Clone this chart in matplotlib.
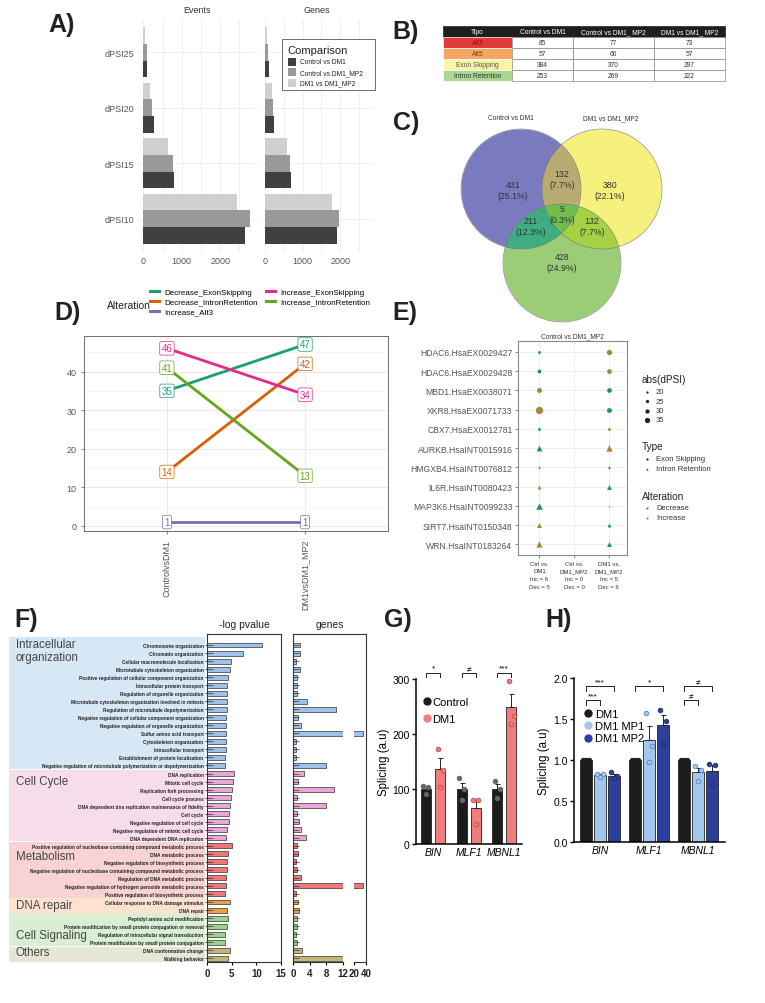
import numpy as np
import matplotlib
matplotlib.use("Agg")
import matplotlib.pyplot as plt
from matplotlib.patches import Rectangle, Circle
from matplotlib.lines import Line2D

plt.rcParams['font.family'] = ['Liberation Sans', 'DejaVu Sans']

W, H = 765, 1004

# A) number of events / genes per dPSI threshold
dpsi_levels = ['dPSI10', 'dPSI15', 'dPSI20', 'dPSI25']
comparisons = ['Control vs DM1', 'Control vs DM1_MP2', 'DM1 vs DM1_MP2']
events_ctrl_dm1 = [2650, 790, 270, 95]
events_ctrl_mp2 = [2765, 775, 235, 85]
events_dm1_mp2 = [2445, 650, 180, 40]
genes_ctrl_dm1 = [1910, 685, 240, 90]
genes_ctrl_mp2 = [1975, 660, 205, 80]
genes_dm1_mp2 = [1780, 580, 180, 35]

# B) table
event_types = ['Alt3', 'Alt5', 'Exon Skipping', 'Intron Retention']
table_header = ['Tipo', 'Control vs DM1', 'Control vs DM1_ MP2', 'DM1 vs DM1_ MP2']
tab_ctrl_dm1 = [85, 57, 384, 253]
tab_ctrl_mp2 = [77, 60, 370, 269]
tab_dm1_mp2 = [73, 57, 297, 222]

# C) venn
venn_titles = ['Control vs DM1', 'DM1 vs DM1_MP2']
venn_regions = ['A', 'B', 'AB', 'ABC', 'AC', 'BC', 'C']
venn_counts = [431, 380, 132, 5, 211, 132, 428]

# D) alterations
alterations = ['Decrease_ExonSkipping', 'Decrease_IntronRetention', 'Increase_Alt3',
               'Increase_ExonSkipping', 'Increase_IntronRetention']
d_ctrl_dm1 = [35, 14, 1, 46, 41]
d_dm1_mp2 = [47, 42, 1, 34, 13]
d_conditions = ['ControlvsDM1', 'DM1vsDM1_MP2']

# E) events dot plot
e_events = ['HDAC6.HsaEX0029427', 'HDAC6.HsaEX0029428', 'MBD1.HsaEX0038071', 'XKR8.HsaEX0071733',
            'CBX7.HsaEX0012781', 'AURKB.HsaINT0015916', 'HMGXB4.HsaINT0076812', 'IL6R.HsaINT0080423',
            'MAP3K6.HsaINT0099233', 'SIRT7.HsaINT0150348', 'WRN.HsaINT0183264']
e_ctrl_dm1_dpsi = [23, 28, 33, 45, 23, 34, 21, 26, 37, 30, 36]
e_ctrl_dm1_alt = ['Decrease', 'Decrease', 'Increase', 'Increase', 'Decrease', 'Decrease',
                  'Increase', 'Increase', 'Decrease', 'Increase', 'Increase']
e_ctrl_mp2_dpsi = []
e_ctrl_mp2_alt = []
e_dm1_mp2_dpsi = [35, 32, 32, 33, 23, 37, 21, 30, 17, 26, 30]
e_dm1_mp2_alt = ['Increase', 'Increase', 'Decrease', 'Decrease', 'Increase', 'Increase',
                 'Decrease', 'Decrease', 'Increase', 'Decrease', 'Decrease']
e_columns = [('Ctrl vs.\nDM1', e_ctrl_dm1_dpsi, e_ctrl_dm1_alt),
             ('Ctrl vs.\nDM1_MP2', e_ctrl_mp2_dpsi, e_ctrl_mp2_alt),
             ('DM1 vs.\nDM1_MP2', e_dm1_mp2_dpsi, e_dm1_mp2_alt)]

# F) GO terms
go_terms = ['Chromosome organization', 'Chromatin organization', 'Cellular macromolecule localization',
            'Microtubule cytoskeleton organization', 'Positive regulation of cellular component organization',
            'Intracellular protein transport', 'Regulation of organelle organization',
            'Microtubule cytoskeleton organization involved in mitosis', 'Regulation of microtubule depolymerization',
            'Negative regulation of cellular component organization', 'Negative regulation of organelle organization',
            'Sulfur amino acid transport', 'Cytoskeleton organization', 'Intracellular transport',
            'Establishment of protein localization',
            'Negative regulation of microtubule polymerization or depolymerization',
            'DNA replication', 'Mitotic cell cycle', 'Replication fork processing', 'Cell cycle process',
            'DNA dependent dna replication maintenance of fidelity', 'Cell cycle',
            'Negative regulation of cell cycle', 'Negative regulation of mitotic cell cycle',
            'DNA dependent DNA replication',
            'Positive regulation of nucleobase containing compound metabolic process', 'DNA metabolic process',
            'Negative regulation of biosynthetic process',
            'Negative regulation of nucleobase containing compound metabolic process',
            'Regulation of DNA metabolic process', 'Negative regulation of hydrogen peroxide metabolic process',
            'Positive regulation of biosynthetic process',
            'Cellular response to DNA damage stimulus', 'DNA repair',
            'Peptidyl amino acid modification', 'Protein modification by small protein conjugation or removal',
            'Regulation of intracellular signal transduction', 'Protein modification by small protein conjugation',
            'DNA conformation change', 'Walking behavior']
go_logp = [11.1, 7.3, 4.8, 4.7, 4.25, 4.05, 4.05, 4.0, 4.0, 3.9, 3.9, 3.85, 3.9, 3.9, 3.7, 3.7,
           5.5, 5.3, 5.1, 4.9, 4.7, 4.5, 4.5, 4.1, 3.8,
           5.1, 4.25, 4.0, 4.0, 3.85, 3.8, 3.7,
           4.6, 4.05,
           4.25, 4.1, 3.7, 3.55,
           4.7, 4.2]
go_genes = [1.75, 1.75, 0.8, 1.6, 1.0, 1.0, 1.0, 3.4, 10.2, 1.3, 1.9, 35, 0.8, 0.7, 0.7, 8.0,
            2.6, 1.3, 9.8, 1.0, 8.0, 0.9, 1.4, 2.0, 3.0,
            1.0, 1.1, 0.8, 0.9, 1.8, 35, 0.7,
            1.2, 1.4,
            1.0, 1.0, 0.7, 1.0,
            2.1, 12]
go_groups = ['Intracellular\norganization', 'Cell Cycle', 'Metabolism', 'DNA repair', 'Cell Signaling', 'Others']
go_group_sizes = [16, 9, 7, 2, 4, 2]
go_bar_colors = ['#9dc3ea', '#e9a6d6', '#ef7679', '#f0a04a', '#9ad38f', '#c2b778']
go_band_colors = ['#d6e7f6', '#f7dcec', '#f9d2d3', '#fce3cf', '#d9eed3', '#e6e6d6']
go_label_rows = [0.7, 16.9, 26.3, 32.4, 36.1, 38.2]

# G) splicing Control vs DM1
g_genes = ['BIN', 'MLF1', 'MBNL1']
g_control = [[105, 103, 91], [120, 100, 80], [115, 100, 83]]
g_dm1 = [[173, 134, 104], [80, 80, 36], [296, 233, 218]]
g_sig = ['*', '≠', '***']

# H) splicing after treatment
h_groups = ['DM1', 'DM1 MP1', 'DM1 MP2']
h_dm1 = [[1.0, 1.0, 1.0], [1.0, 1.0, 1.0], [1.0, 1.0, 1.0]]
h_mp1 = [[0.83, 0.83, 0.79], [1.57, 1.17, 0.98], [0.93, 0.88, 0.74]]
h_mp2 = [[0.85, 0.80, 0.78], [1.61, 1.48, 1.20], [0.95, 0.94, 0.70]]
h_sig = [(0, 1, 1.73, '***'), (0, 2, 1.90, '***'), (1, 2, 1.90, '*'),
         (2, 1, 1.73, '≠'), (2, 2, 1.90, '≠')]

fig = plt.figure(figsize=(W / 100, H / 100), dpi=100)


def px_axes(x0, y0, x1, y1, **kw):
    return fig.add_axes([x0 / W, 1 - y1 / H, (x1 - x0) / W, (y1 - y0) / H], **kw)


def ftext(x, y, s, **kw):
    fig.text(x / W, 1 - y / H, s, **kw)


front = px_axes(0, 0, W, H, zorder=10)
front.set_xlim(0, W)
front.set_ylim(H, 0)
front.axis('off')

for lab, x, y in [('A)', 48, 25), ('B)', 392, 32), ('C)', 393, 123), ('D)', 54, 313),
                  ('E)', 392, 313), ('F)', 14, 620), ('G)', 384, 620), ('H)', 545, 620)]:
    ftext(x, y, lab, fontsize=18, fontweight='bold', va='center', color='#222')

# ---------- A
a_cols = ['#404040', '#999999', '#d0d0d0']
a_y = np.arange(len(dpsi_levels))
facets = [(138, 255, 'Events', [events_ctrl_dm1, events_ctrl_mp2, events_dm1_mp2]),
          (260, 374, 'Genes', [genes_ctrl_dm1, genes_ctrl_mp2, genes_dm1_mp2])]
for k, (x0, x1, title, series) in enumerate(facets):
    ax = px_axes(x0, 20, x1, 253)
    for j, vals in enumerate(series):
        ax.barh(a_y + (j - 1) * 0.3, vals, height=0.3, color=a_cols[j], zorder=2)
    ax.set_xlim(-140, 2905)
    ax.set_ylim(-0.6, 3.6)
    ax.set_xticks([0, 1000, 2000])
    ax.set_xticks([500, 1500, 2500], minor=True)
    ax.set_yticks(a_y)
    ax.set_yticklabels(dpsi_levels if k == 0 else [])
    ax.grid(True, which='both', color='#ececec', lw=0.6)
    ax.set_axisbelow(True)
    for s in ax.spines.values():
        s.set_visible(False)
    ax.tick_params(which='both', length=0, labelsize=6.5, labelcolor='#555', pad=3)
    ax.set_title(title, fontsize=6.5, color='#333', pad=5)

front.add_patch(Rectangle((282, 40), 93, 51, fc='white', ec='#555', lw=0.6))
front.text(287, 51, 'Comparison', fontsize=8, va='center', color='#222')
for j, c in enumerate(comparisons):
    front.add_patch(Rectangle((288, 59 + j * 10.3), 8, 8, fc=a_cols[j], ec='none'))
    front.text(300, 63 + j * 10.3, c, fontsize=4.8, va='center', color='#222')

# ---------- B
col_x = [443, 512, 573, 654, 725]
row_y = [27, 38, 49, 60, 71, 82]
type_colors = ['#e03a3a', '#f5a662', '#faf3a8', '#a9d98f']
type_text = ['#8a1010', '#7a3a10', '#555', '#333']
for c in range(4):
    front.add_patch(Rectangle((col_x[c], row_y[0]), col_x[c + 1] - col_x[c], row_y[1] - row_y[0],
                              fc='#1e1e1e', ec='#1e1e1e', lw=0.5))
    front.text((col_x[c] + col_x[c + 1]) / 2, (row_y[0] + row_y[1]) / 2, table_header[c],
               fontsize=4.8, color='white', ha='center', va='center')
cols_vals = [tab_ctrl_dm1, tab_ctrl_mp2, tab_dm1_mp2]
for r, t in enumerate(event_types):
    y0, y1 = row_y[r + 1], row_y[r + 2]
    front.add_patch(Rectangle((col_x[0], y0), col_x[1] - col_x[0], y1 - y0, fc=type_colors[r], ec='white', lw=0.5))
    front.text((col_x[0] + col_x[1]) / 2, (y0 + y1) / 2, t, fontsize=4.8, color=type_text[r],
               ha='center', va='center')
    for c in range(3):
        front.add_patch(Rectangle((col_x[c + 1], y0), col_x[c + 2] - col_x[c + 1], y1 - y0,
                                  fc='white', ec='#888', lw=0.5))
        front.text((col_x[c + 1] + col_x[c + 2]) / 2, (y0 + y1) / 2, str(cols_vals[c][r]),
                   fontsize=4.8, color='#333', ha='center', va='center')

# ---------- C
ax_c = px_axes(440, 105, 700, 335)
ax_c.set_xlim(440, 700)
ax_c.set_ylim(335, 105)
ax_c.axis('off')
circles = [(521, 190, 60), (602, 190, 60), (562, 264, 59)]
xs = np.linspace(440, 700, 781)
ys = np.linspace(105, 335, 691)
X, Y = np.meshgrid(xs, ys)
code = np.zeros(X.shape, dtype=int)
for i, (cx, cy, r) in enumerate(circles):
    code += ((X - cx) ** 2 + (Y - cy) ** 2 <= r ** 2).astype(int) << i
lut = np.array([[1, 1, 1, 0],
                [0.482, 0.482, 0.749, 1],   # A
                [0.965, 0.945, 0.494, 1],   # B
                [0.725, 0.675, 0.451, 1],   # AB
                [0.604, 0.804, 0.463, 1],   # C
                [0.25, 0.68, 0.51, 1],      # AC
                [0.65, 0.82, 0.27, 1],      # BC
                [0.44, 0.75, 0.30, 1]])     # ABC
ax_c.imshow(lut[code], extent=(440, 700, 335, 105), interpolation='bilinear', aspect='auto')
for cx, cy, r in circles:
    ax_c.add_patch(Circle((cx, cy), r, fill=False, ec='#777', lw=0.4))
total = sum(venn_counts)
venn_pos = {'A': (513, 191), 'B': (610, 191), 'AB': (562, 180), 'ABC': (562, 215),
            'AC': (531, 227), 'BC': (592, 227), 'C': (562, 263)}
for reg, n in zip(venn_regions, venn_counts):
    x, y = venn_pos[reg]
    ax_c.text(x, y, f'{n}\n({100 * n / total:.1f}%)', ha='center', va='center', fontsize=6.3,
              color='#333', linespacing=1.25)
ftext(511, 119, venn_titles[0], fontsize=4.8, ha='center', va='center', color='#333')
ftext(611, 119, venn_titles[1], fontsize=4.8, ha='center', va='center', color='#333')

# ---------- D
d_colors = ['#1b9e77', '#d95f02', '#7570b3', '#e7298a', '#66a61e']
ax_d = px_axes(84, 337, 388, 532)
for i, name in enumerate(alterations):
    v = [d_ctrl_dm1[i], d_dm1_mp2[i]]
    ax_d.plot([1, 2], v, color=d_colors[i], lw=2, zorder=3)
    for xx, vv in zip([1, 2], v):
        ax_d.text(xx, vv, str(vv), ha='center', va='center', fontsize=7, color=d_colors[i], zorder=4,
                  bbox=dict(boxstyle='round,pad=0.18', fc='white', ec=d_colors[i], lw=0.5))
ax_d.set_xlim(0.4, 2.6)
ax_d.set_ylim(-1.3, 49.2)
ax_d.set_yticks([0, 10, 20, 30, 40])
ax_d.set_yticks([5, 15, 25, 35, 45], minor=True)
ax_d.set_xticks([1, 2])
ax_d.set_xticklabels(d_conditions, rotation=90, fontsize=5.4, color='#444')
ax_d.grid(True, which='major', color='#e6e6e6', lw=0.6)
ax_d.grid(True, which='minor', axis='y', color='#f0f0f0', lw=0.4)
ax_d.set_axisbelow(True)
for s in ax_d.spines.values():
    s.set_color('#555')
    s.set_linewidth(0.6)
ax_d.tick_params(which='major', length=2, width=0.5, color='#555', labelsize=6.5, labelcolor='#555')
ax_d.tick_params(which='minor', length=0)
ftext(107, 306, 'Alteration', fontsize=7.5, va='center', color='#222')
fig.legend([Line2D([], [], color=c, lw=2.2) for c in d_colors], alterations, ncol=2, loc='upper left',
           bbox_to_anchor=(150 / W, 1 - 289 / H), frameon=False, fontsize=5.8, handlelength=1.1,
           handletextpad=0.7, columnspacing=1.0, labelspacing=0.3, borderpad=0, borderaxespad=0)

# ---------- E
alt_colors = {'Decrease': '#1a9a55', 'Increase': '#a08838'}


def dpsi_to_size(v):
    d = 2.3 + (np.asarray(v, dtype=float) - 20) * 0.2
    return (d * 0.72) ** 2


ax_e = px_axes(518, 342, 627, 556)
rows_e = np.arange(len(e_events))
xlabels_e = []
for ci, (lab, dps, alts) in enumerate(e_columns):
    for r, (v, a) in enumerate(zip(dps, alts)):
        mk = 'o' if 'EX' in e_events[r] else '^'
        ax_e.scatter(ci, r, s=dpsi_to_size(v) * (1.3 if mk == '^' else 1.0), marker=mk,
                     color=alt_colors[a], zorder=3, lw=0)
    xlabels_e.append(f"{lab}\nInc = {alts.count('Increase')}\nDec = {alts.count('Decrease')}")
ax_e.set_xlim(-0.62, 2.53)
ax_e.set_ylim(10.55, -0.57)
ax_e.set_yticks(rows_e)
ax_e.set_yticklabels(e_events, fontsize=6.2, color='#555')
ax_e.set_xticks([0, 1, 2])
ax_e.set_xticklabels(xlabels_e, fontsize=4.3, color='#333', linespacing=1.7)
ax_e.grid(True, color='#ebebeb', lw=0.6)
ax_e.set_axisbelow(True)
for s in ax_e.spines.values():
    s.set_color('#888')
    s.set_linewidth(0.8)
ax_e.tick_params(length=2, width=0.5, color='#555', pad=2)
ax_e.set_title('Control vs DM1_MP2', fontsize=4.8, color='#333', pad=3)

front.text(642, 380, 'abs(dPSI)', fontsize=7.2, va='center', color='#222')
for k, v in enumerate([20, 25, 30, 35]):
    yy = 393 + k * 9.3
    front.scatter(647, yy, s=dpsi_to_size(v), color='#222', lw=0)
    front.text(656, yy, str(v), fontsize=5.5, va='center', color='#333')
front.text(642, 447, 'Type', fontsize=7.2, va='center', color='#222')
for k, (t, mk) in enumerate([('Exon Skipping', 'o'), ('Intron Retention', '^')]):
    yy = 460 + k * 9.5
    front.scatter(647, yy, s=2.5, marker=mk, color='#222', lw=0)
    front.text(656, yy, t, fontsize=5.5, va='center', color='#333')
front.text(642, 497, 'Alteration', fontsize=7.2, va='center', color='#222')
for k, a in enumerate(['Decrease', 'Increase']):
    yy = 509 + k * 9.5
    front.scatter(647, yy, s=2.5, color=alt_colors[a], lw=0)
    front.text(656, yy, a, fontsize=5.5, va='center', color='#333')

# ---------- F
rows_f = np.arange(len(go_terms))
bounds = np.cumsum([0] + go_group_sizes)
bar_cols_f = []
for g, n in enumerate(go_group_sizes):
    bar_cols_f += [go_bar_colors[g]] * n
ylim_f = (39.47, -1.37)
ax_fb = px_axes(9, 635, 205, 963, zorder=-1)
ax_fb.set_xlim(0, 1)
ax_fb.set_ylim(*ylim_f)
ax_fb.axis('off')
for g in range(len(go_groups)):
    top = bounds[g] - 0.45 if g > 0 else -1.0
    ax_fb.axhspan(top, bounds[g + 1] - 0.55, color=go_band_colors[g], lw=0)
    ax_fb.text(0.035, go_label_rows[g], go_groups[g], fontsize=8.3, color='#444', va='center',
               linespacing=1.05)

ax_f1 = px_axes(207, 635, 281, 963)
ax_f2 = px_axes(293, 635, 343, 963)
ax_f3 = px_axes(354, 635, 366, 963)
for ax, vals, lim, ticks in [(ax_f1, go_logp, (0, 15), [0, 5, 10, 15]),
                             (ax_f2, go_genes, (0, 12), [0, 4, 8, 12]),
                             (ax_f3, go_genes, (20, 40), [20, 40])]:
    ax.barh(rows_f, vals, height=0.62, color=bar_cols_f, edgecolor='#333', lw=0.5, zorder=2)
    ax.set_xlim(*lim)
    ax.set_ylim(*ylim_f)
    ax.set_xticks(ticks)
    ax.set_xticklabels([str(t) for t in ticks], fontsize=7, fontweight='bold', color='#222')
    ax.tick_params(axis='x', length=2.5, width=0.8, pad=2)
    for s in ax.spines.values():
        s.set_linewidth(0.8)
        s.set_color('#333')
ax_f1.hlines(rows_f, 0, 1.2, color='#333', lw=0.5, zorder=3)
ax_f2.hlines(rows_f, 0, 1.4, color='#333', lw=0.5, zorder=3)
ax_f1.set_yticks(rows_f)
ax_f1.set_yticklabels(go_terms, fontsize=3.4, fontweight='bold', color='#222')
ax_f1.tick_params(axis='y', length=1.5, width=0.5, pad=1)
ax_f2.set_yticks([])
ax_f3.set_yticks([])
ax_f2.spines['right'].set_visible(False)
ax_f3.spines['left'].set_visible(False)
front.plot([343, 354], [635, 635], color='#333', lw=0.8)
ftext(244, 630, '-log pvalue', fontsize=7.5, ha='center', va='bottom', color='#222')
ftext(330, 630, 'genes', fontsize=7.5, ha='center', va='bottom', color='#222')

# ---------- G
xg = np.arange(len(g_genes))
ax_g = px_axes(416, 680, 522, 845)
g_sets = [(g_control, -0.2, '#1c1c1c', '#666666', '#666666'), (g_dm1, 0.2, '#f17c7c', '#f17c7c', '#c94848')]
for pts, off, col, pfc, pec in g_sets:
    pts = np.array(pts, dtype=float)
    m = pts.mean(axis=1)
    sem = pts.std(axis=1, ddof=1) / np.sqrt(pts.shape[1])
    ax_g.bar(xg + off, m, width=0.28, color=col, edgecolor='#222', lw=0.6, zorder=2)
    ax_g.errorbar(xg + off, m, yerr=[np.zeros_like(sem), sem], fmt='none', ecolor='#222',
                  elinewidth=0.7, capsize=1.8, capthick=0.7, zorder=3)
    for i in range(len(xg)):
        ax_g.scatter(xg[i] + off + np.array([-0.07, 0.07, 0.0]), pts[i], s=11, fc=pfc, ec=pec, lw=0.6, zorder=4)
for i, s in enumerate(g_sig):
    x1, x2 = xg[i] - 0.2, xg[i] + 0.2
    ax_g.plot([x1, x1, x2, x2], [304, 311, 311, 304], color='#222', lw=0.7, clip_on=False)
    ax_g.text(xg[i], 313, s, ha='center', va='bottom', fontsize=6, clip_on=False)
ax_g.set_xlim(-0.48, 2.5)
ax_g.set_ylim(0, 300)
ax_g.set_yticks([0, 100, 200, 300])
ax_g.set_xticks(xg)
ax_g.set_xticklabels(g_genes, fontsize=8.3, style='italic')
ax_g.set_ylabel('Splicing (a.u)', fontsize=8.3, labelpad=2)
ax_g.spines['top'].set_visible(False)
ax_g.spines['right'].set_visible(False)
for s in ['left', 'bottom']:
    ax_g.spines[s].set_linewidth(1.1)
ax_g.tick_params(labelsize=7.5, width=1.0, length=3, pad=1.5)
ax_g.tick_params(axis='x', length=0, pad=2)
ax_g.legend([Line2D([], [], marker='o', ls='', mfc='#1c1c1c', mec='#1c1c1c', ms=5),
             Line2D([], [], marker='o', ls='', mfc='#f17c7c', mec='#f17c7c', ms=5)],
            ['Control', 'DM1'], loc='upper left', bbox_to_anchor=(421 / W, 1 - 698 / H),
            bbox_transform=fig.transFigure, frameon=False, fontsize=8, handletextpad=0.0,
            handlelength=1.0, labelspacing=0.6, borderpad=0, borderaxespad=0)

# ---------- H
ax_h = px_axes(574, 679, 725, 843)
h_sets = [(h_dm1, -0.286, '#1c1c1c', '#1c1c1c', '#1c1c1c'),
          (h_mp1, 0.0, '#a3c6ec', '#a3c6ec', '#5b84c4'),
          (h_mp2, 0.286, '#2c3f9c', '#2c3f9c', '#1c2a70')]
for pts, off, col, pfc, pec in h_sets:
    pts = np.array(pts, dtype=float)
    m = pts.mean(axis=1)
    sem = pts.std(axis=1, ddof=1) / np.sqrt(pts.shape[1])
    ax_h.bar(xg + off, m, width=0.23, color=col, edgecolor='#222', lw=0.6, zorder=2)
    ax_h.errorbar(xg + off, m, yerr=[np.zeros_like(sem), sem], fmt='none', ecolor='#222',
                  elinewidth=0.7, capsize=1.8, capthick=0.7, zorder=3)
    for i in range(len(xg)):
        ax_h.scatter(xg[i] + off + np.array([-0.06, 0.06, 0.0]), pts[i], s=11, fc=pfc, ec=pec, lw=0.6, zorder=4)
h_offsets = [-0.286, 0.0, 0.286]
for g, j, y, s in h_sig:
    x1, x2 = xg[g] + h_offsets[0], xg[g] + h_offsets[j]
    ax_h.plot([x1, x1, x2, x2], [y - 0.06, y, y, y - 0.06], color='#222', lw=0.7, clip_on=False)
    ax_h.text((x1 + x2) / 2, y + 0.01, s, ha='center', va='bottom', fontsize=6, clip_on=False)
ax_h.set_xlim(-0.53, 2.55)
ax_h.set_ylim(0, 2)
ax_h.set_yticks([0, 0.5, 1.0, 1.5, 2.0])
ax_h.set_yticklabels(['0.0', '0.5', '1.0', '1.5', '2.0'])
ax_h.set_xticks(xg)
ax_h.set_xticklabels(g_genes, fontsize=8.3, style='italic')
ax_h.set_ylabel('Splicing (a.u)', fontsize=8.3, labelpad=2)
ax_h.spines['top'].set_visible(False)
ax_h.spines['right'].set_visible(False)
for s in ['left', 'bottom']:
    ax_h.spines[s].set_linewidth(1.1)
ax_h.tick_params(labelsize=7.5, width=1.0, length=3, pad=1.5)
ax_h.tick_params(axis='x', length=0, pad=2)
ax_h.legend([Line2D([], [], marker='o', ls='', mfc=c, mec=c, ms=5) for _, _, c, _, _ in h_sets],
            h_groups, loc='upper left', bbox_to_anchor=(582 / W, 1 - 710 / H),
            bbox_transform=fig.transFigure, frameon=False, fontsize=8, handletextpad=0.2,
            handlelength=1.0, labelspacing=0.2, borderpad=0, borderaxespad=0)

fig.savefig('out.png', dpi=100, facecolor='white')
